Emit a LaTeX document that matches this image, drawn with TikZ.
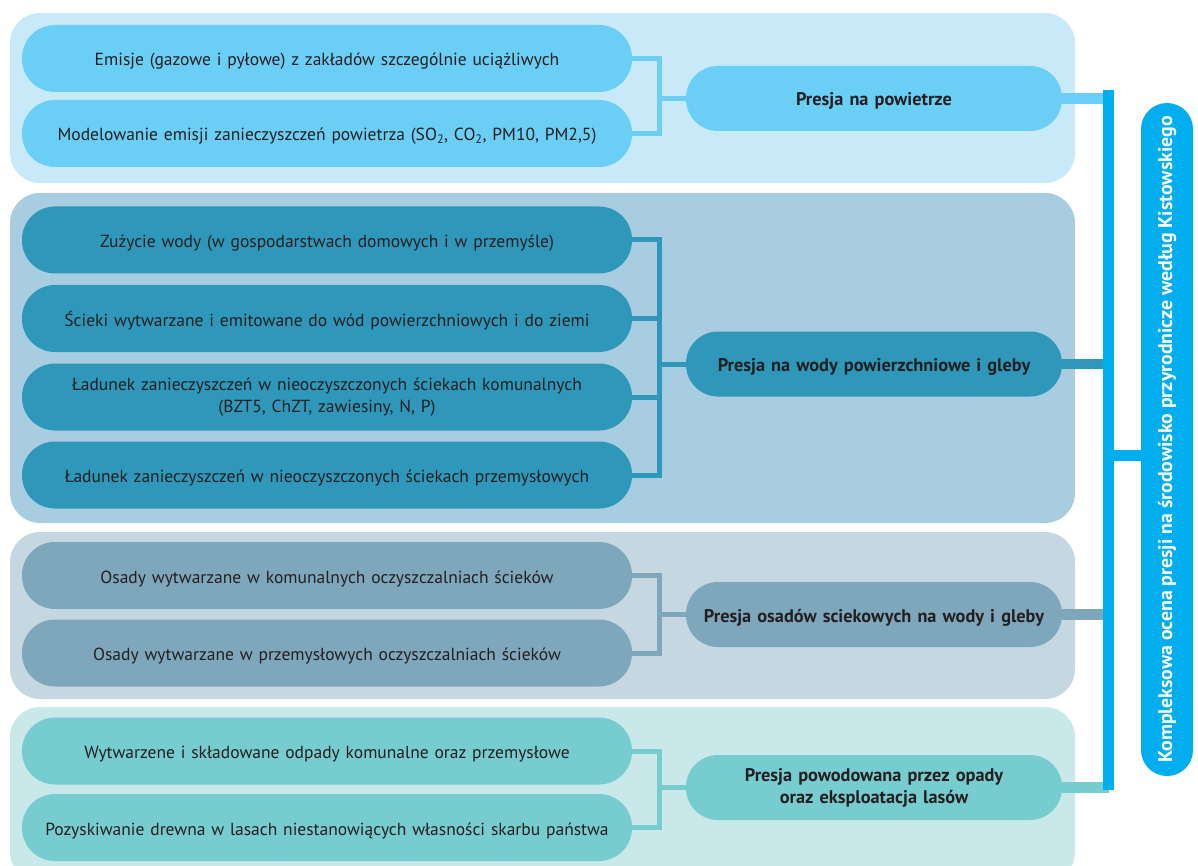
\documentclass[tikz,border=0pt]{standalone}
\usepackage{fontspec}
\setmainfont{PT Sans}
\usepackage{graphicx}
\definecolor{txt}{HTML}{231F20}
\definecolor{pa}{HTML}{C7E9F8}
\definecolor{ca}{HTML}{6ACEF5}
\definecolor{pb}{HTML}{A8CDE0}
\definecolor{cb}{HTML}{2F97BA}
\definecolor{pc}{HTML}{C5D7E1}
\definecolor{cc}{HTML}{7FA7BC}
\definecolor{pd}{HTML}{C9E8EA}
\definecolor{cd}{HTML}{77CCCF}
\definecolor{spinec}{HTML}{00AEEF}
\begin{document}
\begin{tikzpicture}[x=1pt,y=-1pt,
  panel/.style={rounded corners=30pt, minimum width=1065pt, inner sep=0pt, draw=none},
  item/.style={rounded corners=33pt, minimum width=610pt, minimum height=67pt, inner sep=0pt,
    text width=600pt, align=center, text=txt, font=\fontsize{17.5}{22.5}\selectfont},
  mainbox/.style={rounded corners=32pt, minimum width=376pt, minimum height=65pt, inner sep=0pt,
    text width=370pt, align=center, text=txt, font=\bfseries\fontsize{18.3}{22}\selectfont},
  oneline/.style={text height=17pt, text depth=2pt},
  brk/.style={line width=5pt, line cap=rect, line join=miter},
  feed/.style={line width=10.5pt},
]
\clip (0,0) rectangle (1198,866);
% panels
\node[panel, fill=pa, minimum height=170pt] (g1) at (542.5,98) {};
\node[panel, fill=pb, minimum height=330pt] (g2) at (542.5,358) {};
\node[panel, fill=pc, minimum height=167pt] (g3) at (542.5,615.5) {};
\node[panel, fill=pd, minimum height=175pt] (g4) at (542.5,794.5) {};
% items
\node[item, oneline, fill=ca] (a1) at (327,58.5) {Emisje (gazowe i pyłowe) z zakładów szczególnie uciążliwych};
\node[item, oneline, fill=ca] (a2) at (327,133.5) {Modelowanie emisji zanieczyszczeń powietrza (SO\textsubscript{2}, CO\textsubscript{2}, PM10, PM2,5)};
\node[item, oneline, fill=cb] (w1) at (327,240) {Zużycie wody (w gospodarstwach domowych i w przemyśle)};
\node[item, oneline, fill=cb] (w2) at (327,318.5) {Ścieki wytwarzane i emitowane do wód powierzchniowych i do ziemi};
\node[item, fill=cb] (w3) at (327,397) {Ładunek zanieczyszczeń w nieoczyszczonych ściekach komunalnych\\(BZT5, ChZT, zawiesiny, N, P)};
\node[item, oneline, fill=cb] (w4) at (327,475) {Ładunek zanieczyszczeń w nieoczyszczonych ściekach przemysłowych};
\node[item, oneline, fill=cc] (o1) at (327,575.5) {Osady wytwarzane w komunalnych oczyszczalniach ścieków};
\node[item, oneline, fill=cc] (o2) at (327,653) {Osady wytwarzane w przemysłowych oczyszczalniach ścieków};
\node[item, oneline, fill=cd] (l1) at (327,751) {Wytwarzene i składowane odpady komunalne oraz przemysłowe};
\node[item, oneline, fill=cd] (l2) at (327,827.5) {Pozyskiwanie drewna w lasach niestanowiących własności skarbu państwa};
% main nodes
\node[mainbox, oneline, fill=ca] (m1) at (874,98.5) {Presja na powietrze};
\node[mainbox, oneline, fill=cb] (m2) at (874,364) {Presja na wody powierzchniowe i gleby};
\node[mainbox, oneline, fill=cc] (m3) at (874,614.5) {Presja osadów sciekowych na wody i gleby};
\node[mainbox, fill=cd] (m4) at (874,787.5) {Presja powodowana przez opady\\oraz eksploatacja lasów};
% big node
\node[fill=spinec, rounded corners=26pt, minimum width=52pt, minimum height=673pt, inner sep=0pt,
  text=white, font=\bfseries\fontsize{19.8}{22}\selectfont] (K) at (1167,439.5)
  {\rotatebox{90}{Kompleksowa ocena presji na środowisko przyrodnicze według Kistowskiego}};
% brackets
\coordinate (bx) at (659.5,0);
\draw[brk, ca] (a1.east) -- (a1.east -| bx) |- (a2.east);
\draw[brk, ca] (bx |- m1.west) -- (m1.west);
\draw[brk, cb] (w1.east) -- (w1.east -| bx) |- (w4.east);
\draw[brk, cb] (w2.east) -- (w2.east -| bx);
\draw[brk, cb] (w3.east) -- (w3.east -| bx);
\draw[brk, cb] (bx |- m2.west) -- (m2.west);
\draw[brk, cc] (o1.east) -- (o1.east -| bx) |- (o2.east);
\draw[brk, cc] (bx |- m3.west) -- (m3.west);
\draw[brk, cd] (l1.east) -- (l1.east -| bx) |- (l2.east);
\draw[brk, cd] (bx |- m4.west) -- (m4.west);
% spine
\coordinate (st) at (1108.5,90);
\coordinate (sb) at (1108.5,790);
\coordinate (sj) at (1108.5,455);
\draw[feed, ca] (m1.east) -- (m1.east -| st);
\draw[feed, cb] (m2.east) -- (m2.east -| st);
\draw[feed, cc] (m3.east) -- (m3.east -| st);
\draw[feed, cd] (m4.east) -- (m4.east -| st);
\draw[line width=11pt, spinec] (st) -- (sb);
\draw[line width=11pt, spinec] (sj) -- (sj -| K.west);
\end{tikzpicture}
\end{document}
